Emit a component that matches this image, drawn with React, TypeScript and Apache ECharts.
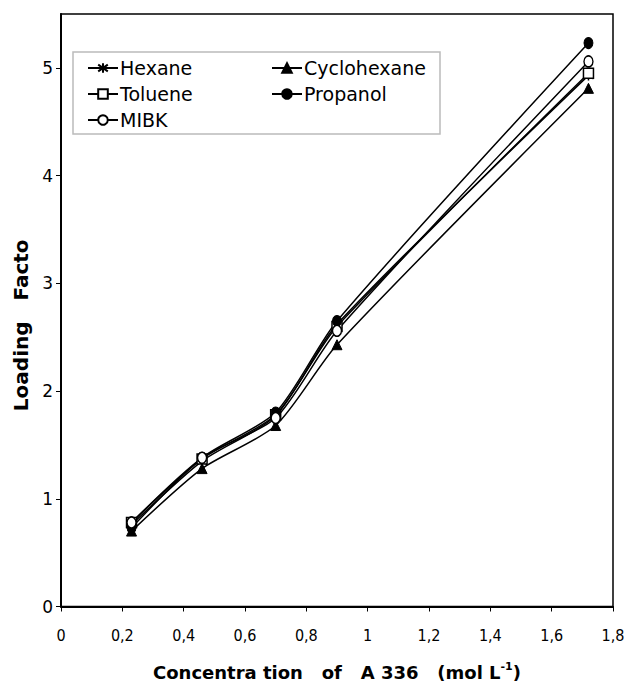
import React, { useEffect, useRef } from "react";
import * as echarts from "echarts";

const xValues = [0.23, 0.46, 0.7, 0.9, 1.72];
const hexane = [0.76, 1.35, 1.77, 2.62, 4.93];
const cyclohexane = [0.7, 1.28, 1.68, 2.43, 4.81];
const toluene = [0.78, 1.37, 1.78, 2.6, 4.95];
const propanol = [0.73, 1.38, 1.8, 2.65, 5.23];
const mibk = [0.78, 1.38, 1.75, 2.56, 5.06];

const seriesNames = ["Hexane", "Cyclohexane", "Toluene", "Propanol", "MIBK"];
const xTicks = [0, 0.2, 0.4, 0.6, 0.8, 1, 1.2, 1.4, 1.6, 1.8];

const starPath = "path://M5,0L5,10M0.5,1.5L9.5,8.5M0.5,8.5L9.5,1.5";

export default function App() {
  const ref = useRef<HTMLDivElement>(null);
  useEffect(() => {
    if (!ref.current) return;
    const chart = echarts.init(ref.current, undefined, { renderer: "svg" });
    const pair = (arr: number[]) => xValues.map((x, i) => [x, arr[i]]);
    const base = {
      type: "line",
      smooth: 0.25,
      lineStyle: { color: "#000", width: 1.5 },
      z: 3,
    };
    const font = "DejaVu Sans, Verdana, sans-serif";
    const legendText = {
      fontSize: 19,
      fontFamily: font,
      color: "#000",
      lineHeight: 20,
      padding: [0, 0, 0, -3],
    };
    chart.setOption({
      animation: false,
      backgroundColor: "#fff",
      grid: {
        left: 61,
        right: 15,
        top: 14,
        bottom: 77,
        show: true,
        borderColor: "#000",
        borderWidth: 1.5,
      },
      xAxis: {
        type: "value",
        min: 0,
        max: 1.8,
        interval: 0.2,
        splitLine: { show: false },
        axisLine: { show: true, lineStyle: { color: "#000", width: 2 } },
        axisTick: { show: true, length: 5, lineStyle: { color: "#000" } },
        axisLabel: {
          color: "#000",
          fontSize: 16,
          fontFamily: "Liberation Sans Narrow, DejaVu Sans Condensed, sans-serif",
          margin: 21,
          formatter: (v: number) => {
            const t = xTicks.find((x) => Math.abs(x - v) < 1e-6);
            return t === undefined ? "" : String(t).replace(".", ",");
          },
        },
        name: "{a|Concentra tion   of   A 336   (mol L}{sup|-1}{a|)}",
        nameLocation: "middle",
        nameGap: 54,
        nameTextStyle: {
          rich: {
            a: { fontSize: 18, fontWeight: "bold", fontFamily: font, color: "#000" },
            sup: {
              fontSize: 11,
              fontWeight: "bold",
              fontFamily: font,
              color: "#000",
              padding: [0, 0, 12, 0],
            },
          },
        },
      },
      yAxis: {
        type: "value",
        min: 0,
        max: 5.5,
        interval: 1,
        splitLine: { show: false },
        axisLine: { show: true, lineStyle: { color: "#000", width: 2 } },
        axisTick: { show: true, length: 5, lineStyle: { color: "#000" } },
        axisLabel: {
          color: "#000",
          fontSize: 17,
          fontFamily: font,
          margin: 8,
          showMaxLabel: false,
        },
        name: "Loading   Facto",
        nameLocation: "middle",
        nameGap: 22,
        nameTextStyle: {
          fontSize: 20,
          fontWeight: "bold",
          fontFamily: font,
          color: "#000",
          padding: [0, 30, 0, 0],
        },
      },
      legend: [
        {
          data: ["Hexane", "Toluene", "MIBK"],
          orient: "vertical",
          left: 82,
          top: 53,
          itemWidth: 30,
          itemHeight: 12,
          itemGap: 6,
          textStyle: legendText,
        },
        {
          data: ["Cyclohexane", "Propanol"],
          orient: "vertical",
          left: 266,
          top: 53,
          itemWidth: 30,
          itemHeight: 12,
          itemGap: 6,
          textStyle: legendText,
        },
      ],
      graphic: [
        {
          type: "rect",
          shape: { x: 73, y: 52, width: 367, height: 82 },
          style: { fill: "#fff", stroke: "#bbb", lineWidth: 1.5 },
          z: 0,
          zlevel: 0,
        },
      ],
      series: [
        {
          ...base,
          name: seriesNames[0],
          data: pair(hexane),
          symbol: starPath,
          symbolSize: 10,
          itemStyle: { color: "#000", borderColor: "#000", borderWidth: 1.5 },
        },
        {
          ...base,
          name: seriesNames[1],
          data: pair(cyclohexane),
          symbol: "triangle",
          symbolSize: 10,
          itemStyle: { color: "#000", borderColor: "#000", borderWidth: 1 },
        },
        {
          ...base,
          name: seriesNames[2],
          data: pair(toluene),
          symbol: "rect",
          symbolSize: 10,
          itemStyle: { color: "#fff", borderColor: "#000", borderWidth: 1.5 },
        },
        {
          ...base,
          name: seriesNames[3],
          data: pair(propanol),
          symbol: "circle",
          symbolSize: [9, 11],
          itemStyle: { color: "#000", borderColor: "#000", borderWidth: 1 },
        },
        {
          ...base,
          name: seriesNames[4],
          data: pair(mibk),
          symbol: "circle",
          symbolSize: [9, 11],
          itemStyle: { color: "#fff", borderColor: "#000", borderWidth: 1.5 },
        },
      ],
    });
    return () => chart.dispose();
  }, []);
  return (
    <div
      ref={ref}
      style={{ position: "absolute", left: 0, top: 0, width: 628, height: 686 }}
    />
  );
}
